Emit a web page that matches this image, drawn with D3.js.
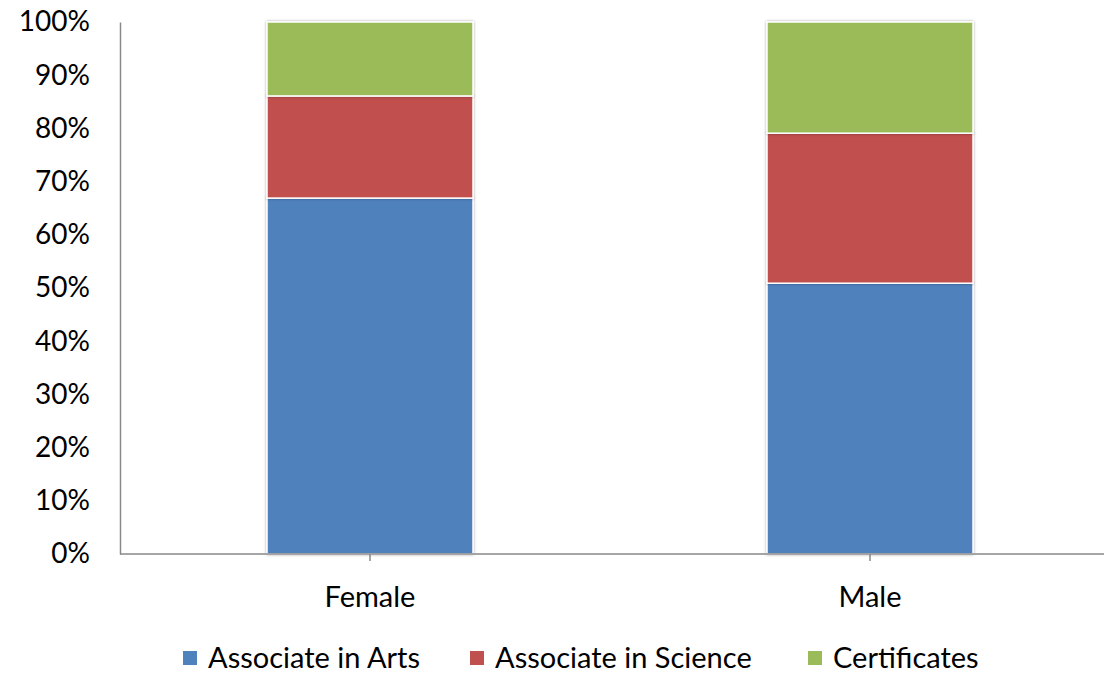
<!DOCTYPE html>
<html><head><meta charset="utf-8">
<script src="https://cdn.jsdelivr.net/npm/d3@7"></script>
<style>body{margin:0;background:#fff}svg{display:block}text{font-family:Lato,"Open Sans",sans-serif;fill:#000}</style>
</head><body>
<svg id="c" width="1104" height="673"></svg>
<script>
const categories = ["Female", "Male"];
const seriesNames = ["Associate in Arts", "Associate in Science", "Certificates"];
const associateArts = [66.9, 50.9];
const associateScience = [19.2, 28.2];
const certificates = [13.9, 20.9];
const yTicks = [0,10,20,30,40,50,60,70,80,90,100];
const colors = ["#4F81BD", "#C0504D", "#9BBB59"];

(function(){
const svg = d3.select("#c");
const pL = 120, pR = 1120, pT = 22, pB = 554;
const x = d3.scaleBand().domain(categories).range([pL, pR]).paddingInner(0.588).paddingOuter(0.294);
const y = d3.scaleLinear().domain([0, 100]).range([pB, pT]);

const rows = categories.map((c, i) => ({cat: c, [seriesNames[0]]: associateArts[i], [seriesNames[1]]: associateScience[i], [seriesNames[2]]: certificates[i]}));
const stack = d3.stack().keys(seriesNames)(rows);

const defs = svg.append("defs");
const f = defs.append("filter").attr("id","sh").attr("x","-10%").attr("y","-10%").attr("width","120%").attr("height","120%");
f.append("feGaussianBlur").attr("in","SourceAlpha").attr("stdDeviation",1.5).attr("result","b");
f.append("feComponentTransfer").attr("in","b").attr("result","t").append("feFuncA").attr("type","linear").attr("slope",0.35);
const m = f.append("feMerge"); m.append("feMergeNode").attr("in","t"); m.append("feMergeNode").attr("in","SourceGraphic");

svg.append("g").selectAll("g").data(stack).join("g")
  .attr("fill", (d, i) => colors[i])
  .selectAll("rect").data(d => d).join("rect")
  .attr("x", d => x(d.data.cat))
  .attr("width", x.bandwidth())
  .attr("y", d => y(d[1]))
  .attr("height", d => y(d[0]) - y(d[1]))
  .attr("stroke", "#fff").attr("stroke-width", 1.5)
  .attr("filter", "url(#sh)");

const ya = svg.append("g").attr("transform", `translate(${pL},0)`).call(d3.axisLeft(y).tickValues(yTicks).tickSize(0).tickPadding(30).tickFormat(d => d + "%"));
ya.select(".domain").attr("stroke", "#898989").attr("stroke-width", 1.5);
ya.selectAll("text").attr("font-size", 28).attr("font-family", "Lato,'Open Sans',sans-serif").attr("fill", "#000");

const xa = svg.append("g").attr("transform", `translate(0,${pB})`).call(d3.axisBottom(x).tickSize(7).tickPadding(25).tickSizeOuter(0));
xa.select(".domain").attr("stroke", "#898989").attr("stroke-width", 1.5).attr("d", `M${pL},0H1104`);
xa.selectAll(".tick line").attr("stroke", "#898989").attr("stroke-width", 1.5);
xa.selectAll("text").attr("font-size", 29).attr("font-family", "Lato,'Open Sans',sans-serif").attr("fill", "#000");

const legX = [183, 470, 808];
const lg = svg.append("g").selectAll("g").data(seriesNames).join("g")
  .attr("transform", (d, i) => `translate(${legX[i]},658)`);
lg.append("rect").attr("x", 0).attr("y", -7).attr("width", 14).attr("height", 14).attr("fill", (d, i) => colors[i]);
lg.append("text").attr("x", 25).attr("y", 0).attr("dy", "0.35em").attr("font-size", 29).text(d => d);
})();
</script>
</body></html>
